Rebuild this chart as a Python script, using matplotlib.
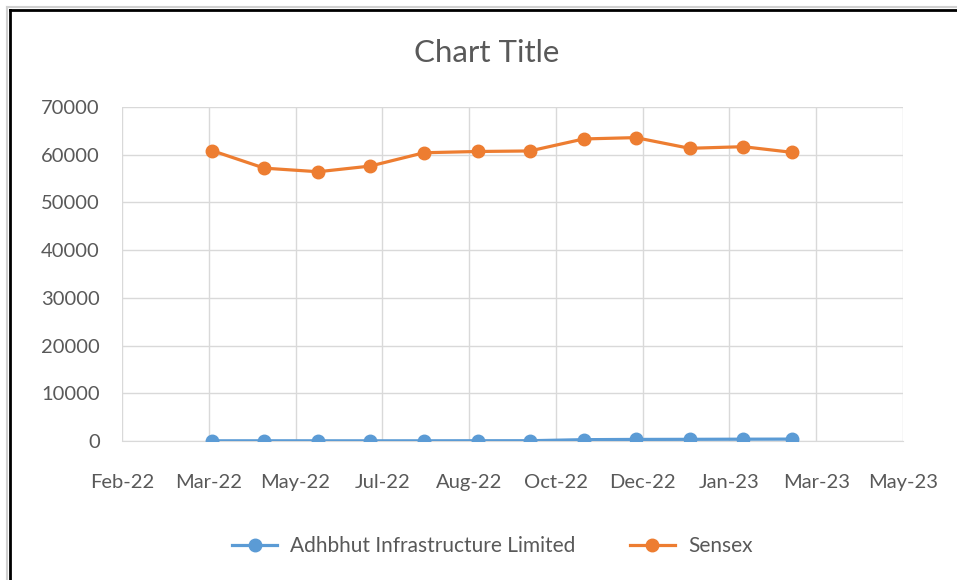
import matplotlib.pyplot as plt
from matplotlib.lines import Line2D
import datetime as dt

# monthly data, Apr-22 .. Mar-23
months = [dt.date(2022, m, 1) for m in range(4, 13)] + [dt.date(2023, m, 1) for m in range(1, 4)]
adhbhut = [40, 45, 40, 38, 42, 55, 60, 280, 330, 350, 380, 400]
sensex = [60845, 57184, 56432, 57619, 60412, 60676, 60786, 63303, 63583, 61343, 61682, 60498]
tick_labels = ['Feb-22', 'Mar-22', 'May-22', 'Jul-22', 'Aug-22', 'Oct-22',
               'Dec-22', 'Jan-23', 'Mar-23', 'May-23']

plt.rcParams['font.family'] = ['Lato', 'DejaVu Sans']
W, H = 957, 580
fig = plt.figure(figsize=(W / 100, H / 100), dpi=100)
ax = fig.add_axes([122 / W, 1 - 441 / H, (903 - 122) / W, (441 - 107) / H])

ax.plot(months, adhbhut, color='#5B9BD5', lw=2.3, marker='o', ms=9,
        label='Adhbhut Infrastructure Limited', zorder=3)
ax.plot(months, sensex, color='#ED7D31', lw=2.3, marker='o', ms=9,
        label='Sensex', zorder=3)

start = dt.date(2022, 2, 8)
ticks = [start + dt.timedelta(days=50 * i) for i in range(10)]
ax.set_xlim(ticks[0], ticks[-1])
ax.set_xticks(ticks)
ax.set_xticklabels(tick_labels)
ax.set_ylim(0, 70000)
ax.set_yticks(range(0, 70001, 10000))

ax.grid(True, color='#D9D9D9', lw=1)
ax.set_axisbelow(True)
for s in ax.spines.values():
    s.set_visible(False)
ax.spines['bottom'].set_visible(True)
ax.spines['bottom'].set_color('#D9D9D9')
ax.tick_params(length=0, labelsize=14.5, colors='#595959')
ax.tick_params(axis='x', pad=24)
ax.tick_params(axis='y', pad=16)

fig.text(487 / W, 1 - 53 / H, 'Chart Title', ha='center', va='center',
         fontsize=22.5, color='#595959')

fig.legend(loc='center', bbox_to_anchor=(492 / W, 1 - 546 / H), ncol=2, frameon=False,
           fontsize=15, labelcolor='#595959', handlelength=2.2, columnspacing=2.6,
           handletextpad=0.6)

# outer frame of the screenshot
fig.add_artist(Line2D([7 / W, 7 / W], [0, 1 - 7 / H], color='#D0D0D0', lw=1.5))
fig.add_artist(Line2D([7 / W, 1], [1 - 7 / H, 1 - 7 / H], color='#D0D0D0', lw=1.5))
fig.add_artist(Line2D([10 / W, 10 / W], [0, 1 - 10 / H], color='black', lw=2))
fig.add_artist(Line2D([10 / W, 1], [1 - 10 / H, 1 - 10 / H], color='black', lw=2))

fig.savefig('out.png', dpi=100)
